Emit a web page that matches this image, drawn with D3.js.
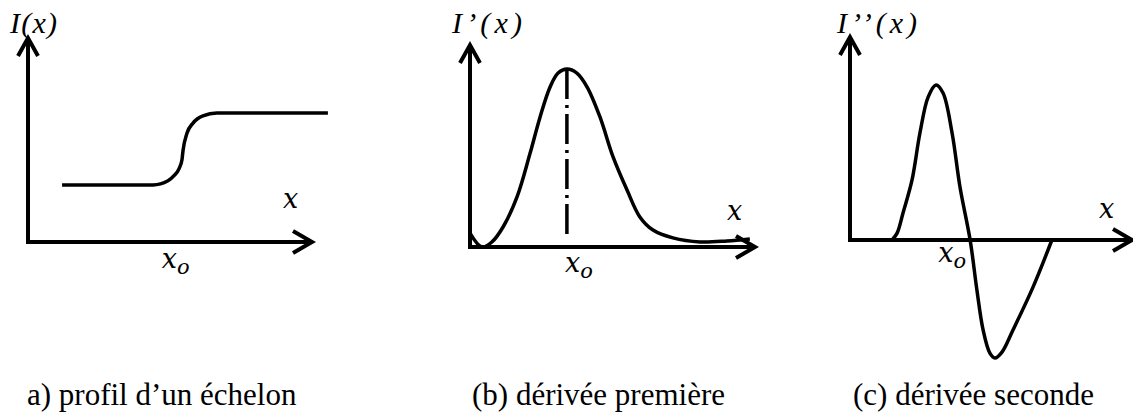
<!DOCTYPE html>
<html>
<head>
<meta charset="utf-8">
<script src="https://cdn.jsdelivr.net/npm/d3@7"></script>
<style>body{margin:0;background:#fff}</style>
</head>
<body>
<svg id="fig" width="1133" height="416"></svg>
<script>
// (a) step profile I(x)
const stepX = [12, 44, 49.3, 51.4, 53.2, 54.2, 54.6, 56, 58.1, 61.6, 66.5, 105.6];
const stepY = [28, 28, 30, 32.5, 36, 40.2, 45, 53.4, 58.3, 61.8, 63.2, 63.2];
const stepEdge = 51;

// (b) first derivative I'(x)
const d1X = [0, 4.2, 7.7, 11.6, 16.5, 21.1, 24.6, 28.1, 30.9, 34.0, 37.5, 41.1, 45.6, 50.2, 55.1, 59.6, 64.2, 71.2, 80.7, 90.2, 98.2];
const d1Y = [6.9, 0, 2.5, 9.9, 24.8, 46.5, 64.4, 79.2, 86.1, 88.1, 86.1, 79.2, 64.4, 44.6, 28.2, 14.9, 8.4, 4.5, 2.5, 3.0, 4.0];
const d1Peak = 34.0;
const d1PeakValue = 88.1;

// (c) second derivative I''(x); left of 14.9 it lies on the axis
const d2X = [14.9, 16.7, 18.8, 22.0, 24.8, 27.7, 30.5, 33.0, 36.2, 39.0, 42.6, 45.0, 47.2, 49.6, 51.4, 53.9, 57.8, 64.9, 71.6];
const d2Y = [0, 3.4, 13.3, 29.6, 52.7, 70.4, 76.4, 72.4, 52.7, 26.1, 0, -24.6, -44.3, -55.7, -58.1, -55.2, -44.3, -23.2, 0];
const d2Zero = 37;

// text
const yLabels = ["I(x)", "I\u2019(x)", "I\u2019\u2019(x)"];
const xLabel = "x";
const x0Main = "x";
const x0Sub = "o";
const captions = ["a) profil d\u2019un \u00e9chelon", "(b) d\u00e9riv\u00e9e premi\u00e8re", "(c) d\u00e9riv\u00e9e seconde"];

const svg = d3.select("#fig");
const ink = "#000";

function label(x, y, family, size, italic, str) {
  const t = svg.append("text").attr("x", x).attr("y", y)
    .attr("font-family", family)
    .style("font-family", `'${family}', monospace`, "important")
    .style("font-size", size + "px", "important");
  if (italic) t.style("font-style", "italic", "important");
  if (str !== undefined) t.text(str);
  return t;
}

const panels = [
  {
    x: d3.scaleLinear().domain([0, 100]).range([28, 312]),
    y: d3.scaleLinear().domain([0, 100]).range([242, 38]),
    xs: stepX, ys: stepY, edge: stepEdge, curve: d3.curveMonotoneX,
    ylab: [10, 33, 47], xlab: [283, 208], x0dx: -11, x0y: 268, cap: 27
  },
  {
    x: d3.scaleLinear().domain([0, 100]).range([470, 755]),
    y: d3.scaleLinear().domain([0, 100]).range([247, 45]),
    xs: d1X, ys: d1Y, edge: d1Peak, curve: d3.curveCatmullRom.alpha(0.5),
    ylab: [452, 33, 70], xlab: [727, 220], x0dx: -2, x0y: 272, cap: 472
  },
  {
    x: d3.scaleLinear().domain([0, 100]).range([850, 1132]),
    y: d3.scaleLinear().domain([0, 100]).range([240, 37]),
    xs: d2X, ys: d2Y, edge: d2Zero, curve: d3.curveCatmullRom.alpha(0.5),
    ylab: [837, 33, 80], xlab: [1099, 218], x0dx: -16, x0y: 262, cap: 853
  }
];

panels.forEach((p, i) => {
  const x0 = p.x(0), y0 = p.y(0);
  const xEnd = p.x(100), yEnd = p.y(100);

  // axes
  svg.append("line").attr("x1", x0).attr("y1", y0).attr("x2", xEnd).attr("y2", y0)
    .attr("stroke", ink).attr("stroke-width", 4);
  svg.append("line").attr("x1", x0).attr("y1", y0 + 2).attr("x2", x0).attr("y2", yEnd)
    .attr("stroke", ink).attr("stroke-width", 4);

  // open arrowheads
  svg.append("path")
    .attr("d", `M${xEnd - 19},${y0 - 11}L${xEnd},${y0}L${xEnd - 19},${y0 + 11}`)
    .attr("fill", "none").attr("stroke", ink).attr("stroke-width", 4);
  svg.append("path")
    .attr("d", `M${x0 - 10},${yEnd + 18}L${x0},${yEnd}L${x0 + 10},${yEnd + 18}`)
    .attr("fill", "none").attr("stroke", ink).attr("stroke-width", 4);

  // curve
  const pts = p.xs.map((v, k) => [v, p.ys[k]]);
  const line = d3.line().x(d => p.x(d[0])).y(d => p.y(d[1])).curve(p.curve);
  svg.append("path").attr("d", line(pts))
    .attr("fill", "none").attr("stroke", ink).attr("stroke-width", 3.5)
    .attr("stroke-linejoin", "round");

  // axis titles
  label(p.ylab[0], p.ylab[1], "Liberation Serif", 30, true, yLabels[i])
    .attr("textLength", p.ylab[2]).attr("lengthAdjust", "spacing");
  label(p.xlab[0], p.xlab[1], "DejaVu Serif", 27, true, xLabel);

  const t = label(p.x(p.edge) + p.x0dx, p.x0y, "DejaVu Serif", 27, true);
  t.append("tspan").text(x0Main);
  t.append("tspan").attr("dy", 6).style("font-size", "21px", "important").text(x0Sub);

  // caption
  label(p.cap, 405, "Liberation Serif", 31, false, captions[i]);
});

// dash-dot marker at the peak of the first derivative
const pb = panels[1];
svg.append("line")
  .attr("x1", pb.x(d1Peak)).attr("x2", pb.x(d1Peak))
  .attr("y1", pb.y(d1PeakValue)).attr("y2", pb.y(5))
  .attr("stroke", ink).attr("stroke-width", 3.5)
  .attr("stroke-dasharray", "30,6,3,6");
</script>
</body>
</html>
